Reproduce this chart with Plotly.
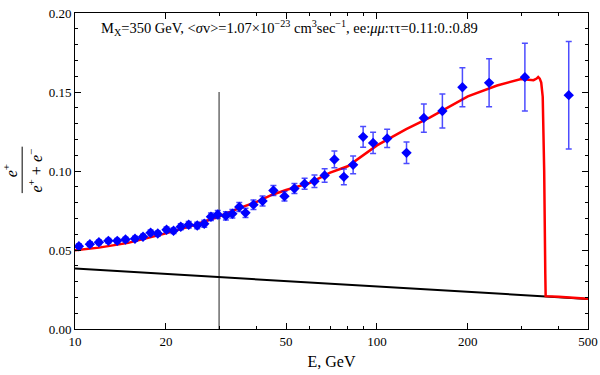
import plotly.graph_objects as go

# AMS-02 like positron fraction points
energy = [10.3, 11.2, 12.0, 12.9, 13.8, 14.7, 15.8, 16.8, 17.8, 18.8,
          20.1, 21.2, 22.4, 23.8, 25.4, 26.8, 28.2, 29.7, 31.6, 33.2,
          35.0, 36.7, 39.0, 41.8, 45.4, 49.4, 53.3, 57.6, 62.1, 67.1,
          72.3, 77.7, 83.4, 90.0, 97.1, 108.1, 125.3, 143.0, 164.7, 191.9,
          235.2, 309.0, 431.7]
fraction = [0.0524, 0.0537, 0.0549, 0.0558, 0.0558, 0.0566, 0.0571, 0.0584, 0.0609, 0.0604,
            0.0628, 0.0622, 0.0647, 0.0660, 0.0655, 0.0666, 0.0710, 0.0725, 0.0716, 0.0729,
            0.0772, 0.0735, 0.0787, 0.0810, 0.0877, 0.0840, 0.0889, 0.0919, 0.0935, 0.0972,
            0.1073, 0.0963, 0.1039, 0.1216, 0.1178, 0.1206, 0.1115, 0.1335, 0.1380, 0.1530,
            0.1558, 0.1594, 0.1480]
fraction_err = [0.0015, 0.0015, 0.0015, 0.0015, 0.0015, 0.0015, 0.0016, 0.0016, 0.0017, 0.0017,
                0.0018, 0.0018, 0.0019, 0.0020, 0.0021, 0.0022, 0.0024, 0.0025, 0.0026, 0.0027,
                0.0028, 0.0029, 0.0030, 0.0031, 0.0032, 0.0030, 0.0032, 0.0035, 0.0040, 0.0043,
                0.0053, 0.0050, 0.0056, 0.0065, 0.0068, 0.0058, 0.0068, 0.0089, 0.0108, 0.0123,
                0.0152, 0.0215, 0.0340]

# model: dark matter signal + background
model_e = [10, 12, 15, 20, 25, 30, 35, 40, 45, 50, 60, 70, 80, 100, 125, 150, 200, 250,
           300, 320, 330, 338, 342, 346, 350, 354, 358, 361, 362, 400, 500]
model_f = [0.0498, 0.0515, 0.0545, 0.0605, 0.0660, 0.0712, 0.0765, 0.0805, 0.0850, 0.0880, 0.0925,
           0.0990, 0.1030, 0.1162, 0.1265, 0.1340, 0.1472, 0.1541,
           0.1582, 0.1580, 0.1575, 0.1585, 0.1595, 0.1585, 0.1560, 0.1470, 0.1000, 0.0350,
           0.0208, 0.0204, 0.0191]

bg_e = [10, 20, 50, 100, 200, 350, 500]
bg_f = [0.0383, 0.0349, 0.0301, 0.0267, 0.0233, 0.0208, 0.0190]

cut_e = [30, 30]
cut_f = [0, 0.15]

serif = "Liberation Serif"

fig = go.Figure()
fig.add_trace(go.Scatter(x=cut_e, y=cut_f, mode="lines",
                         line=dict(color="#222222", width=1)))
fig.add_trace(go.Scatter(x=bg_e, y=bg_f, mode="lines",
                         line=dict(color="black", width=2)))
fig.add_trace(go.Scatter(x=model_e, y=model_f, mode="lines",
                         line=dict(color="red", width=2.5)))
fig.add_trace(go.Scatter(x=energy, y=fraction, mode="markers",
                         marker=dict(symbol="diamond", size=8, color="blue"),
                         error_y=dict(type="data", array=fraction_err, color="rgba(0,0,255,0.7)",
                                      thickness=1.5, width=3)))

fig.update_layout(
    width=600, height=375,
    margin=dict(l=75, r=12, t=13, b=46),
    plot_bgcolor="white", paper_bgcolor="white",
    showlegend=False,
    font=dict(family=serif, size=13, color="black"),
)
fig.update_xaxes(type="log", range=[1, 2.69897], automargin=False,
                 tickvals=[10, 20, 50, 100, 200, 500], ticktext=["10", "20", "50", "100", "200", "500"],
                 tickfont=dict(family=serif, size=13),
                 ticks="inside", ticklen=6, tickcolor="black",
                 minor=dict(tickvals=[30, 40, 60, 70, 80, 90, 300, 400], ticks="inside",
                            ticklen=3, tickcolor="black"),
                 showline=True, linecolor="black", linewidth=1, mirror="allticks",
                 showgrid=False, zeroline=False,
                 title=dict(text="E, GeV", font=dict(family=serif, size=16), standoff=8))
fig.update_yaxes(range=[0, 0.2], automargin=False,
                 tickvals=[0, 0.05, 0.1, 0.15, 0.2], tickformat=".2f",
                 tickfont=dict(family=serif, size=13),
                 ticks="inside", ticklen=6, tickcolor="black",
                 minor=dict(dtick=0.01, ticks="inside", ticklen=3, tickcolor="black"),
                 showline=True, linecolor="black", linewidth=1, mirror="allticks",
                 showgrid=False, zeroline=False)

fig.add_annotation(
    text="M<sub>X</sub>=350 GeV, &lt;<i>σ</i>v&gt;=1.07×10<sup>−23</sup> cm<sup>3</sup>sec<sup>−1</sup>, ee:<i>μμ</i>:ττ=0.11:0.:0.89",
    xref="paper", yref="paper", x=0.046, y=0.953, xanchor="left", yanchor="middle",
    showarrow=False, font=dict(family=serif, size=14.5))

# y-axis title as a rotated fraction
fig.add_annotation(text="<i>e</i><sup>+</sup>", xref="paper", yref="paper",
                   x=-0.126, y=0.50, textangle=-90, showarrow=False,
                   xanchor="center", yanchor="middle", font=dict(family=serif, size=16))
fig.add_annotation(text="<i>e</i><sup>+</sup> + <i>e</i><sup>−</sup>", xref="paper", yref="paper",
                   x=-0.077, y=0.503, textangle=-90, showarrow=False,
                   xanchor="center", yanchor="middle", font=dict(family=serif, size=16))
fig.add_shape(type="line", xref="paper", yref="paper", x0=-0.103, x1=-0.103,
              y0=0.43, y1=0.577, line=dict(color="black", width=1))

# page body has a default margin; drop it so the 600x375 figure fills the window
fig.write_html("out.html", config={"displayModeBar": False},
               post_script="document.body.style.margin='0';")
